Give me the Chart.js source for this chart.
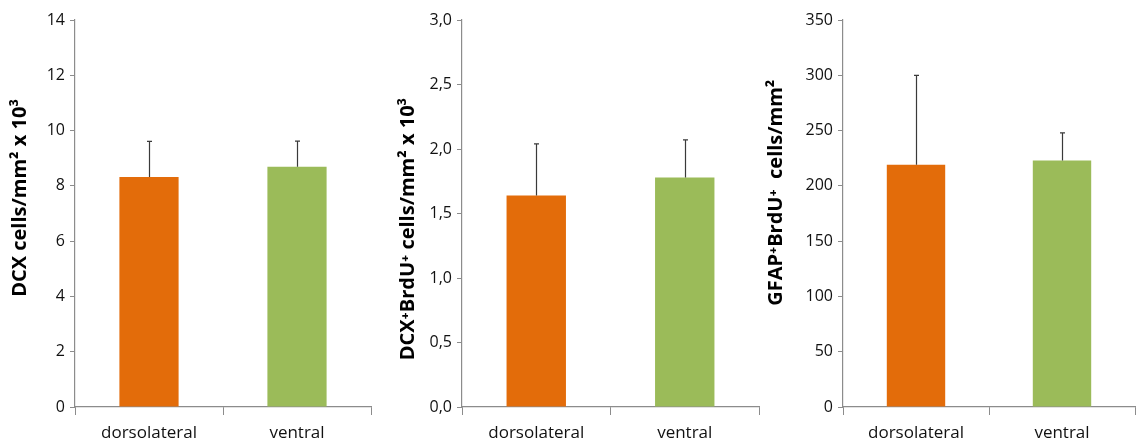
<!DOCTYPE html>
<html>
<head>
<meta charset="utf-8">
<script src="https://cdn.jsdelivr.net/npm/chart.js@4.4.0/dist/chart.umd.min.js"></script>
<style>
  body { margin: 0; background: #fff; }
  .panel { position: absolute; top: 0; height: 445px; }
  #p1 { left: 0; width: 376px; }
  #p2 { left: 380px; width: 380px; }
  #p3 { left: 756px; width: 380px; }
</style>
</head>
<body>
<div class="panel" id="p1"><canvas id="c1"></canvas></div>
<div class="panel" id="p2"><canvas id="c2"></canvas></div>
<div class="panel" id="p3"><canvas id="c3"></canvas></div>
<script>
// data
const regions = ['dorsolateral', 'ventral'];
const barColors = ['#E36C0A', '#9BBB59'];

const dcxMeans = [8.32, 8.69];
const dcxErrors = [1.29, 0.93];

const dcxBrduMeans = [1.64, 1.78];
const dcxBrduErrors = [0.40, 0.29];

const gfapBrduMeans = [219, 223];
const gfapBrduErrors = [81, 25];

const errorBars = {
    id: 'errorBars',
    afterDatasetsDraw(chart) {
        const ctx = chart.ctx;
        const yScale = chart.scales.y;
        const meta = chart.getDatasetMeta(0);
        const ds = chart.data.datasets[0];
        ctx.save();
        ctx.strokeStyle = '#3a3a3a';
        ctx.lineWidth = 1.2;
        meta.data.forEach((bar, i) => {
            const top = yScale.getPixelForValue(ds.data[i] + ds.errors[i]);
            const x = Math.round(bar.x) + 0.5;
            ctx.beginPath();
            ctx.moveTo(x, bar.y);
            ctx.lineTo(x, top);
            ctx.moveTo(x - 2.5, top);
            ctx.lineTo(x + 2.5, top);
            ctx.stroke();
        });
        ctx.restore();
    }
};

function makeChart(id, means, errors, opts) {
    const axisColor = '#8c8c8c';
    return new Chart(document.getElementById(id), {
        type: 'bar',
        data: {
            labels: regions,
            datasets: [{
                data: means,
                errors: errors,
                backgroundColor: barColors,
                categoryPercentage: 0.8,
                barPercentage: 0.5
            }]
        },
        options: {
            responsive: true,
            maintainAspectRatio: false,
            animation: false,
            layout: { padding: { top: 20, right: opts.right, bottom: 0, left: 0 } },
            plugins: { legend: { display: false }, tooltip: { enabled: false } },
            scales: {
                x: {
                    grid: { offset: true, drawOnChartArea: false, tickLength: 8, color: axisColor },
                    border: { color: axisColor, width: 1.2 },
                    ticks: { color: '#111', font: { family: 'Open Sans', size: 17 }, padding: 8 },
                    afterFit(scale) { scale.height = 38; }
                },
                y: {
                    min: 0,
                    max: opts.max,
                    ticks: {
                        stepSize: opts.step,
                        color: '#111',
                        padding: 5,
                        font: { family: 'Open Sans', size: 16 },
                        callback: opts.fmt
                    },
                    grid: { drawOnChartArea: false, tickLength: 5, color: axisColor },
                    border: { color: axisColor, width: 1.2 },
                    title: {
                        display: true,
                        text: opts.title,
                        color: '#000',
                        font: { family: 'Open Sans', size: 20, weight: 'bold' },
                        padding: { top: opts.titlePad, bottom: 0 }
                    },
                    afterFit(scale) { scale.width = opts.axisWidth; }
                }
            }
        },
        plugins: [errorBars]
    });
}

const comma1 = v => v.toFixed(1).replace('.', ',');

makeChart('c1', dcxMeans, dcxErrors, {
    max: 14, step: 2, title: '      DCX cells/mm² x 10³',
    axisWidth: 75, titlePad: 8, right: 5, fmt: v => v
});
makeChart('c2', dcxBrduMeans, dcxBrduErrors, {
    max: 3, step: 0.5, title: 'DCX⁺BrdU⁺ cells/mm² x 10³      ',
    axisWidth: 82, titlePad: 16, right: 1, fmt: comma1
});
makeChart('c3', gfapBrduMeans, gfapBrduErrors, {
    max: 350, step: 50, title: '        GFAP⁺BrdU⁺  cells/mm²',
    axisWidth: 87, titlePad: 8, right: 1, fmt: v => v
});
</script>
</body>
</html>
